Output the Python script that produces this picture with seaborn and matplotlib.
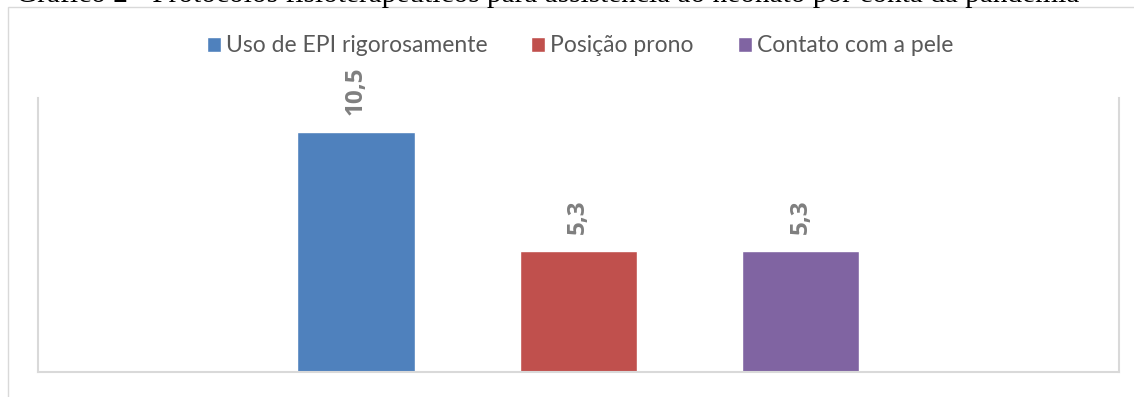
import matplotlib
matplotlib.use("Agg")
import matplotlib.pyplot as plt
from matplotlib.patches import Rectangle
import pandas as pd
import seaborn as sns

# Chart data
categories = [""]
series = ["Uso de EPI rigorosamente", "Posição prono", "Contato com a pele"]
values = [10.5, 5.3, 5.3]
colors = ["#4f81bd", "#c0504d", "#8064a2"]
title = "Gráfico 2 - Protocolos fisioterapêuticos para assistência ao neonato por conta da pandemia"

df = pd.DataFrame({
    "categoria": categories * len(series),
    "serie": series,
    "valor": values,
})

sns.set_theme(style="white")
plt.rcParams["font.family"] = ["Lato", "DejaVu Sans"]

W, H = 1134, 397
fig = plt.figure(figsize=(W / 100, H / 100), dpi=100)
fig.patch.set_facecolor("white")

# Outer chart frame
fig.patches.append(Rectangle((8 / W, -0.1), 1.2, (H - 7.3) / H + 0.1,
                             transform=fig.transFigure, fill=False,
                             edgecolor="#d9d9d9", linewidth=1.0, zorder=0))

ax = fig.add_axes([37.7 / W, (H - 372.3) / H, (1119 - 37.7) / W, (372.3 - 98) / H])
sns.barplot(data=df, x="categoria", y="valor", hue="serie",
            hue_order=series, palette=colors, width=0.6168, gap=0.4715,
            saturation=1, legend=True, ax=ax)

ax.set_xlim(-0.5, 0.5)
ax.set_ylim(0, 12)
ax.set_xlabel("")
ax.set_ylabel("")
ax.set_xticks([])
ax.set_yticks([])
for side in ["left", "right", "bottom"]:
    ax.spines[side].set_visible(True)
    ax.spines[side].set_color("#d9d9d9")
    ax.spines[side].set_linewidth(1.5)
ax.spines["top"].set_visible(False)

for cont in ax.containers:
    labs = [f"{b.get_height():.1f}".replace(".", ",") for b in cont]
    ax.bar_label(cont, labels=labs, rotation=90, padding=12.5,
                 fontsize=17.5, fontweight="bold", color="#7f7f7f",
                 family=["Open Sans", "DejaVu Sans"])

handles, labels = ax.get_legend_handles_labels()
ax.get_legend().remove()
fig.legend(handles, labels, loc="center", bbox_to_anchor=(580 / W, 1 - 46 / H),
           ncol=3, frameon=False, fontsize=16.5, handlelength=0.62,
           handleheight=0.62, handletextpad=0.22, columnspacing=1.9,
           labelcolor="#595959")

# Caption above the chart frame, sized to span its line width
t = fig.text(16 / W, 1 - 2.5 / H, title, family="Liberation Serif",
             fontsize=20, va="baseline", ha="left", color="black")
fig.canvas.draw()
bb = t.get_window_extent()
t.set_fontsize(20 * (1078 - 16) / bb.width)

fig.savefig("out.png", dpi=100)
